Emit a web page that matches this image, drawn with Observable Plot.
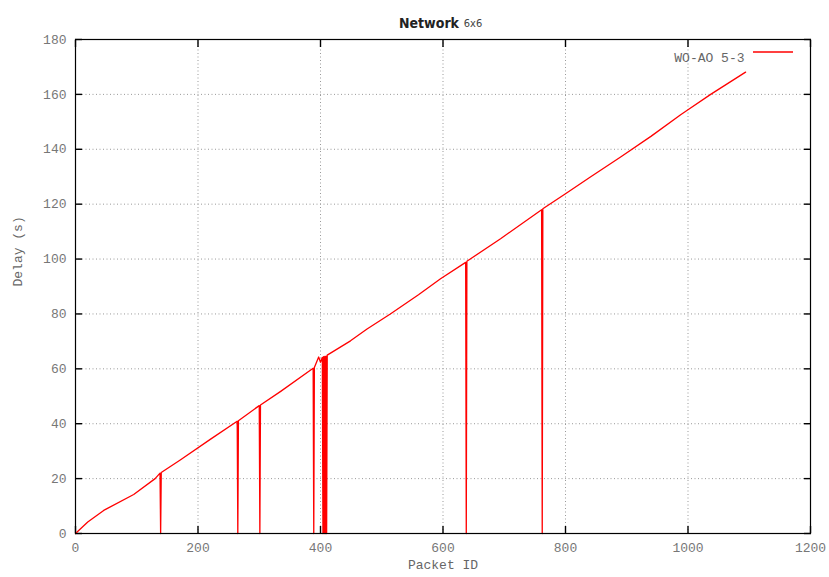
<!DOCTYPE html>
<html>
<head>
<meta charset="utf-8">
<script src="https://cdn.jsdelivr.net/npm/d3@7"></script>
<script src="https://cdn.jsdelivr.net/npm/@observablehq/plot@0.6"></script>
<style>
  html, body { margin: 0; padding: 0; background: #fff; }
  #chart svg { display: block; }
</style>
</head>
<body>
<div id="chart"></div>
<script>
// Packet IDs and delays (s), series "WO-AO 5-3"
const packetId = [0, 20, 46, 95, 130, 138, 139, 140, 171, 220, 264, 265, 266, 300, 301, 302, 335, 388, 389, 390, 397, 400, 403, 404, 405, 406, 407, 408, 409, 410, 411, 449, 476, 514, 560, 596, 637, 638, 639, 694, 761, 762, 763, 800, 840, 890, 940, 988, 1000, 1037, 1094];
const delay    = [0, 4.2, 8.4, 14.2, 20.0, 22.0, 0, 22.2, 26.8, 34.3, 40.9, 0, 41.1, 46.6, 0, 46.8, 51.8, 60.2, 0, 60.5, 64.3, 62.4, 64.2, 0, 64.4, 0, 64.5, 0, 64.6, 0, 65.0, 70.2, 74.5, 80.0, 87.0, 92.8, 98.8, 0, 99.2, 107.4, 118.0, 0, 118.3, 123.8, 129.8, 137.2, 144.8, 152.6, 154.4, 160.0, 168.1];
const seriesName = "WO-AO 5-3";
const xTicks = [0, 200, 400, 600, 800, 1000, 1200];
const yTicks = [0, 20, 40, 60, 80, 100, 120, 140, 160, 180];

const data = packetId.map((id, i) => ({id, delay: delay[i]}));

const mono = "'Liberation Mono', 'DejaVu Sans Mono', monospace";
const gridStyle = {stroke: "#999", strokeOpacity: 1, strokeDasharray: "1,2.5", strokeWidth: 1};
const xMin = xTicks[0], xMax = xTicks[xTicks.length - 1];
const yMin = yTicks[0], yMax = yTicks[yTicks.length - 1];
const T = 7; // tick length (drawn inward, gnuplot style)
const noText = () => "";

const chart = Plot.plot({
  width: 829,
  height: 577,
  marginLeft: 75,
  marginRight: 19,
  marginTop: 39,
  marginBottom: 44,
  style: {fontFamily: mono, fontSize: "13px", color: "#666", background: "#fff"},
  x: {domain: [xMin, xMax], ticks: xTicks},
  y: {domain: [yMin, yMax], ticks: yTicks},
  marks: [
    Plot.gridX(xTicks.filter(t => t > xMin && t < xMax), gridStyle),
    Plot.gridY(yTicks.filter(t => t > yMin && t < yMax), gridStyle),
    // tick labels
    Plot.axisX(xTicks, {anchor: "bottom", tickSize: 0, tickPadding: 9, tickFormat: d3.format("d"), fill: "#777", fontSize: 13, label: null}),
    Plot.axisY(yTicks, {anchor: "left", tickSize: 0, tickPadding: 9, tickFormat: d3.format("d"), fill: "#777", fontSize: 13, label: null}),
    // inward, mirrored tick marks
    Plot.axisX(xTicks, {anchor: "bottom", tickSize: T, dy: -T, tickFormat: noText, stroke: "#000", strokeWidth: 1.4, label: null}),
    Plot.axisX(xTicks, {anchor: "top", tickSize: T, dy: T, tickFormat: noText, stroke: "#000", strokeWidth: 1.4, label: null}),
    Plot.axisY(yTicks, {anchor: "left", tickSize: T, dx: T, tickFormat: noText, stroke: "#000", strokeWidth: 1.4, label: null}),
    Plot.axisY(yTicks, {anchor: "right", tickSize: T, dx: -T, tickFormat: noText, stroke: "#000", strokeWidth: 1.4, label: null}),
    Plot.line(data, {x: "id", y: "delay", stroke: "#ff0000", strokeWidth: 1.3}),
    Plot.frame({stroke: "#000", strokeWidth: 1.2}),
    // title
    Plot.text(["Network"], {frameAnchor: "top", dy: -21, dx: -14, fontFamily: "'Liberation Sans Narrow', 'DejaVu Sans Condensed', sans-serif", fontSize: 14, fontWeight: "bold", fill: "#222"}),
    Plot.text(["6x6"], {frameAnchor: "top", dy: -20, dx: 30, fontFamily: "'Liberation Sans Narrow', 'DejaVu Sans Condensed', sans-serif", fontSize: 11, fill: "#444"}),
    // axis labels
    Plot.text(["Packet ID"], {frameAnchor: "bottom", dy: 35, fontFamily: mono, fontSize: 13, fill: "#666"}),
    Plot.text(["Delay (s)"], {frameAnchor: "left", dx: -58, rotate: -90, fontFamily: mono, fontSize: 13, fill: "#666"}),
    // legend
    Plot.text([seriesName], {frameAnchor: "top-right", dx: -66, dy: 13, textAnchor: "end", fontFamily: mono, fontSize: 13, fill: "#666"}),
    Plot.ruleY([0], {render: (index, scales, values, dims) => {
      const g = d3.create("svg:g");
      g.append("line")
        .attr("x1", dims.width - dims.marginRight - 57)
        .attr("x2", dims.width - dims.marginRight - 17)
        .attr("y1", dims.marginTop + 13)
        .attr("y2", dims.marginTop + 13)
        .attr("stroke", "#ff0000")
        .attr("stroke-width", 1.3);
      return g.node();
    }})
  ]
});

document.getElementById("chart").appendChild(chart);
</script>
</body>
</html>
